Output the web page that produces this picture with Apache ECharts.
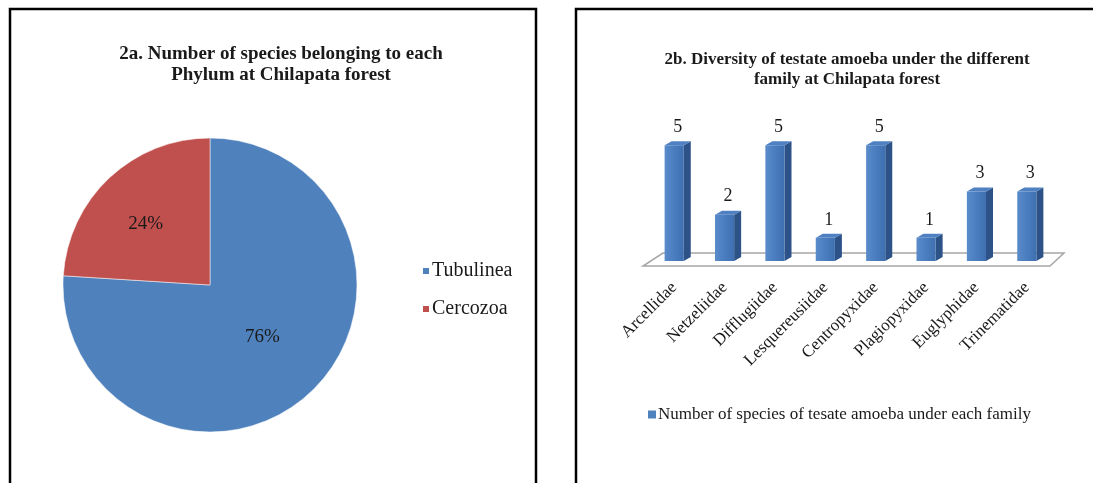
<!DOCTYPE html>
<html>
<head>
<meta charset="utf-8">
<script src="https://cdn.jsdelivr.net/npm/echarts@6/dist/echarts.min.js"></script>
<style>
html,body{margin:0;padding:0;background:#fff;}
#chart{width:1093px;height:483px;}
</style>
</head>
<body>
<div id="chart"></div>
<script>
// ---- data ----
const pieTitle = "2a. Number of species belonging to each\nPhylum at Chilapata forest";
const phyla = ["Tubulinea", "Cercozoa"];
const phylumSpecies = [19, 6];

const barTitle = "2b. Diversity of testate amoeba under the different\nfamily at Chilapata forest";
const families = ["Arcellidae", "Netzeliidae", "Difflugiidae", "Lesquereusiidae", "Centropyxidae", "Plagiopyxidae", "Euglyphidae", "Trinematidae"];
const familySpecies = [5, 2, 5, 1, 5, 1, 3, 3];
const barSeriesName = "Number of species of tesate amoeba under each family";

const FONT = "'Liberation Serif', 'Times New Roman', serif";
const BLUE = "#4F81BD", RED = "#C0504D";

const chart = echarts.init(document.getElementById('chart'), null, {renderer: 'canvas'});

const DX = 7, DY = -4;

function renderBar(params, api) {
  const i = api.value(0), v = api.value(1);
  const base = api.coord([i, 0]);
  const top = api.coord([i, v]);
  const band = api.size([1, 0])[0];
  const w = band * 0.38;
  const cx = base[0];
  const l = cx - w / 2, r = cx + w / 2;
  const front = new echarts.graphic.LinearGradient(0, 0, 1, 0, [
    {offset: 0, color: '#5A8CCB'}, {offset: 0.5, color: '#4A7DC0'}, {offset: 1, color: '#3F6FAF'}
  ]);
  return {
    type: 'group',
    children: [
      {type: 'polygon', shape: {points: [[r, top[1]], [r + DX, top[1] + DY], [r + DX, base[1] + DY], [r, base[1]]]},
        style: {fill: '#2C5288'}},
      {type: 'polygon', shape: {points: [[l, top[1]], [l + DX, top[1] + DY], [r + DX, top[1] + DY], [r, top[1]]]},
        style: {fill: '#4F80C2'}},
      {type: 'rect', shape: {x: l, y: top[1], width: w, height: base[1] - top[1]},
        style: {fill: front}},
      {type: 'text', style: {text: String(v), x: cx + DX / 2, y: top[1] + DY - 14, align: 'center', verticalAlign: 'middle',
        font: "18px " + FONT, fill: '#1a1a1a'}}
    ]
  };
}

function renderFloor(params, api) {
  const band = api.size([1, 0])[0];
  const z = api.coord([0, 0])[1];
  const L = api.coord([0, 0])[0] - band / 2;
  const R = api.coord([families.length - 1, 0])[0] + band / 2;
  return {
    type: 'polygon',
    shape: {points: [[L - 6, z + 5], [R - 2, z + 5], [R + 12, z - 8], [L + 14, z - 8]]},
    style: {fill: '#fff', stroke: '#A6A6A6', lineWidth: 1.5}
  };
}

const option = {
  backgroundColor: '#fff',
  animation: false,
  title: [
    {text: pieTitle, left: 276, top: 39, textAlign: 'center',
      textStyle: {fontFamily: FONT, fontWeight: 'bold', fontSize: 19, lineHeight: 21, color: '#1a1a1a'}},
    {text: barTitle, left: 842, top: 45, textAlign: 'center',
      textStyle: {fontFamily: FONT, fontWeight: 'bold', fontSize: 17, lineHeight: 20, color: '#1a1a1a'}}
  ],
  legend: [
    {data: phyla, orient: 'vertical', left: 416, top: 256, itemWidth: 8, itemHeight: 8, itemGap: 18, icon: 'rect',
      textStyle: {fontFamily: FONT, fontSize: 20, color: '#1a1a1a', padding: [0, 0, 0, -3]}},
    {data: [barSeriesName], left: 643, top: 401, itemWidth: 8, itemHeight: 8, icon: 'rect',
      textStyle: {fontFamily: FONT, fontSize: 17, color: '#1a1a1a', padding: [0, 0, 0, -3]}}
  ],
  grid: {left: 649, right: 41, top: 122, bottom: 222, containLabel: false},
  xAxis: {type: 'category', data: families,
    axisLine: {show: false}, axisTick: {show: false}, splitLine: {show: false},
    axisLabel: {rotate: 45, margin: 24, interval: 0, fontFamily: FONT, fontSize: 17, color: '#1a1a1a'}},
  yAxis: {type: 'value', min: 0, max: 6, show: false},
  series: [
    {type: 'pie', name: 'Phylum', center: [210, 285], radius: 147, startAngle: 90, clockwise: true,
      color: [BLUE, RED],
      data: phyla.map((p, i) => ({name: p, value: phylumSpecies[i],
        label: i === 1 ? {offset: [-12, -5]} : {offset: [0, -4]}})),
      label: {show: true, position: 'inside', formatter: '{d}%', fontFamily: FONT, fontSize: 19, color: '#1a1a1a'},
      labelLine: {show: false},
      itemStyle: {borderColor: '#fff', borderWidth: 0.5},
      emphasis: {disabled: true}},
    {type: 'custom', name: 'floor', renderItem: renderFloor, data: [[0, 0]], z: 1, silent: true,
      encode: {x: 0, y: 1}},
    {type: 'custom', name: barSeriesName, renderItem: renderBar, z: 2,
      itemStyle: {color: BLUE},
      data: familySpecies.map((v, i) => [i, v]), encode: {x: 0, y: 1}}
  ],
  graphic: [
    {type: 'rect', shape: {x: 10, y: 9, width: 526, height: 520}, style: {fill: null, stroke: '#000', lineWidth: 2.5}, z: 100},
    {type: 'rect', shape: {x: 576, y: 9, width: 600, height: 520}, style: {fill: null, stroke: '#000', lineWidth: 2.5}, z: 100}
  ]
};
chart.setOption(option);
</script>
</body>
</html>
